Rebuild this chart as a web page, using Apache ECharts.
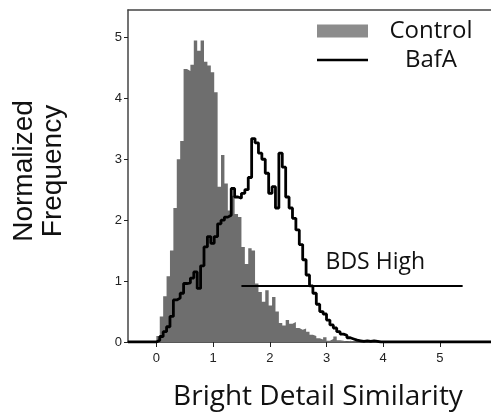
<!DOCTYPE html>
<html>
<head>
<meta charset="utf-8">
<script src="https://cdn.jsdelivr.net/npm/echarts@6/dist/echarts.min.js"></script>
<style>
html, body { margin: 0; padding: 0; background: #fff; }
#container { width: 491px; height: 413px; }
</style>
</head>
<body>
<div id="container"></div>
<script>
// histogram bins start at 0, each bin is binWidth wide
var binWidth = 0.06;
var controlFreq = [0.1, 0.42, 0.75, 1.08, 1.5, 2.2, 3.0, 3.3, 4.48, 4.45, 4.55, 4.95, 4.78, 4.95, 4.6, 4.54, 4.43, 4.1,
    2.55, 3.07, 2.6, 2.16, 2.4, 2.1, 2.05, 1.56, 1.28, 1.54, 1.5, 0.96, 0.82, 0.66, 0.85, 0.6, 0.74, 0.5,
    0.31, 0.27, 0.36, 0.3, 0.33, 0.23, 0.2, 0.22, 0.17, 0.12, 0.1, 0.06, 0.04, 0.08, 0.02, 0.05, 0.09, 0.03,
    0.02, 0, 0.02, 0.01, 0, 0, 0.02, 0, 0.03, 0.02, 0.03, 0];
var bafaFreq = [0.03, 0.09, 0.17, 0.25, 0.42, 0.69, 0.72, 0.8, 0.96, 0.97, 1.05, 1.15, 0.88, 1.25, 1.56, 1.73, 1.62, 1.73,
    1.94, 2.0, 2.05, 2.08, 2.52, 2.38, 2.36, 2.44, 2.5, 2.7, 3.34, 3.27, 3.1, 3.0, 2.77, 2.44, 2.55, 2.2,
    3.1, 2.87, 2.38, 2.2, 2.03, 1.84, 1.6, 1.35, 1.1, 0.92, 0.8, 0.62, 0.5, 0.46, 0.36, 0.28, 0.23, 0.17,
    0.13, 0.11, 0.07, 0.05, 0.03, 0.02, 0.01, 0.02, 0.01, 0.02, 0.01, 0];
var xTicks = [0, 1, 2, 3, 4, 5];
var yTicks = [0, 1, 2, 3, 4, 5];
var gateX = [1.5, 5.4];
var gateY = 0.92;
var gateLabelAt = [3.86, 1.31];

var xMin = -0.5, xMax = 5.9;

function toSteps(freq, padEnds) {
    var pts = [];
    if (padEnds) pts.push([xMin, 0]);
    for (var i = 0; i < freq.length; i++) {
        pts.push([+(i * binWidth).toFixed(3), freq[i]]);
    }
    pts.push([+(freq.length * binWidth).toFixed(3), 0]);
    if (padEnds) pts.push([xMax, 0]);
    return pts;
}

var dom = document.getElementById('container');
var myChart = echarts.init(dom);

var tickFont = {
    fontFamily: 'Liberation Sans',
    fontSize: 13,
    color: '#222'
};

var option = {
    animation: false,
    backgroundColor: '#fff',
    grid: { left: 128, top: 10, right: 0, bottom: 71, outerBoundsMode: 'none', containLabel: false },
    legend: {
        left: 312,
        top: 14,
        orient: 'vertical',
        itemWidth: 51,
        itemHeight: 13,
        itemGap: 5,
        data: [
            { name: 'Control', icon: 'rect', itemStyle: { color: '#8c8c8c' } },
            { name: 'BafA', icon: 'path://M0,0H100V5H0Z' }
        ],
        formatter: '{a|{name}}',
        textStyle: {
            rich: {
                a: {
                    width: 84,
                    align: 'center',
                    padding: [0, 0, 0, 16],
                    fontFamily: 'Open Sans',
                    fontSize: 24,
                    lineHeight: 26,
                    color: '#111'
                }
            }
        }
    },
    xAxis: [{
        type: 'value',
        min: xMin,
        max: xMax,
        axisLine: { onZero: false, lineStyle: { color: '#222', width: 1.5 } },
        axisTick: { customValues: xTicks, length: 5, lineStyle: { color: '#222' } },
        axisLabel: Object.assign({ customValues: xTicks, margin: 10 }, tickFont),
        splitLine: { show: false },
        name: 'Bright Detail Similarity',
        nameLocation: 'middle',
        nameGap: 41,
        nameTextStyle: {
            fontFamily: 'Open Sans',
            fontSize: 28,
            color: '#111',
            padding: [0, 0, 0, 17]
        }
    }, {
        type: 'value',
        position: 'top',
        min: xMin,
        max: xMax,
        axisLine: { onZero: false, lineStyle: { color: '#444', width: 1.5 } },
        axisTick: { show: false },
        axisLabel: { show: false },
        splitLine: { show: false }
    }],
    yAxis: {
        type: 'value',
        min: 0,
        max: 5.45,
        axisLine: { show: true, onZero: false, lineStyle: { color: '#444', width: 1.5 } },
        axisTick: { show: true, customValues: yTicks, length: 4, lineStyle: { color: '#222' } },
        axisLabel: Object.assign({ customValues: yTicks, margin: 6 }, tickFont),
        splitLine: { show: false },
        name: 'Normalized\nFrequency',
        nameLocation: 'middle',
        nameRotate: 90,
        nameGap: 60,
        nameTextStyle: {
            fontFamily: 'Liberation Sans',
            fontSize: 28,
            lineHeight: 29,
            color: '#111',
            padding: [0, 0, 0, 10]
        }
    },
    series: [
        {
            name: 'Control',
            type: 'line',
            step: 'end',
            symbol: 'none',
            data: toSteps(controlFreq, false),
            lineStyle: { width: 0, color: '#6e6e6e' },
            itemStyle: { color: '#6e6e6e' },
            areaStyle: { color: '#6e6e6e', opacity: 1 },
            z: 2
        },
        {
            name: 'BafA',
            type: 'line',
            step: 'end',
            symbol: 'none',
            data: toSteps(bafaFreq, true),
            lineStyle: { width: 2.8, color: '#000' },
            itemStyle: { color: '#000' },
            z: 3
        },
        {
            name: 'gate',
            type: 'line',
            symbol: 'none',
            data: [[gateX[0], gateY], [gateX[1], gateY]],
            lineStyle: { width: 2, color: '#000' },
            z: 4
        },
        {
            name: 'gateLabel',
            type: 'scatter',
            symbolSize: 0,
            data: [gateLabelAt],
            itemStyle: { opacity: 1, color: '#000' },
            label: {
                show: true,
                position: 'inside',
                formatter: 'BDS High',
                fontFamily: 'Open Sans',
                fontSize: 23,
                color: '#111'
            },
            z: 5
        }
    ]
};

myChart.setOption(option, true);
</script>
</body>
</html>
